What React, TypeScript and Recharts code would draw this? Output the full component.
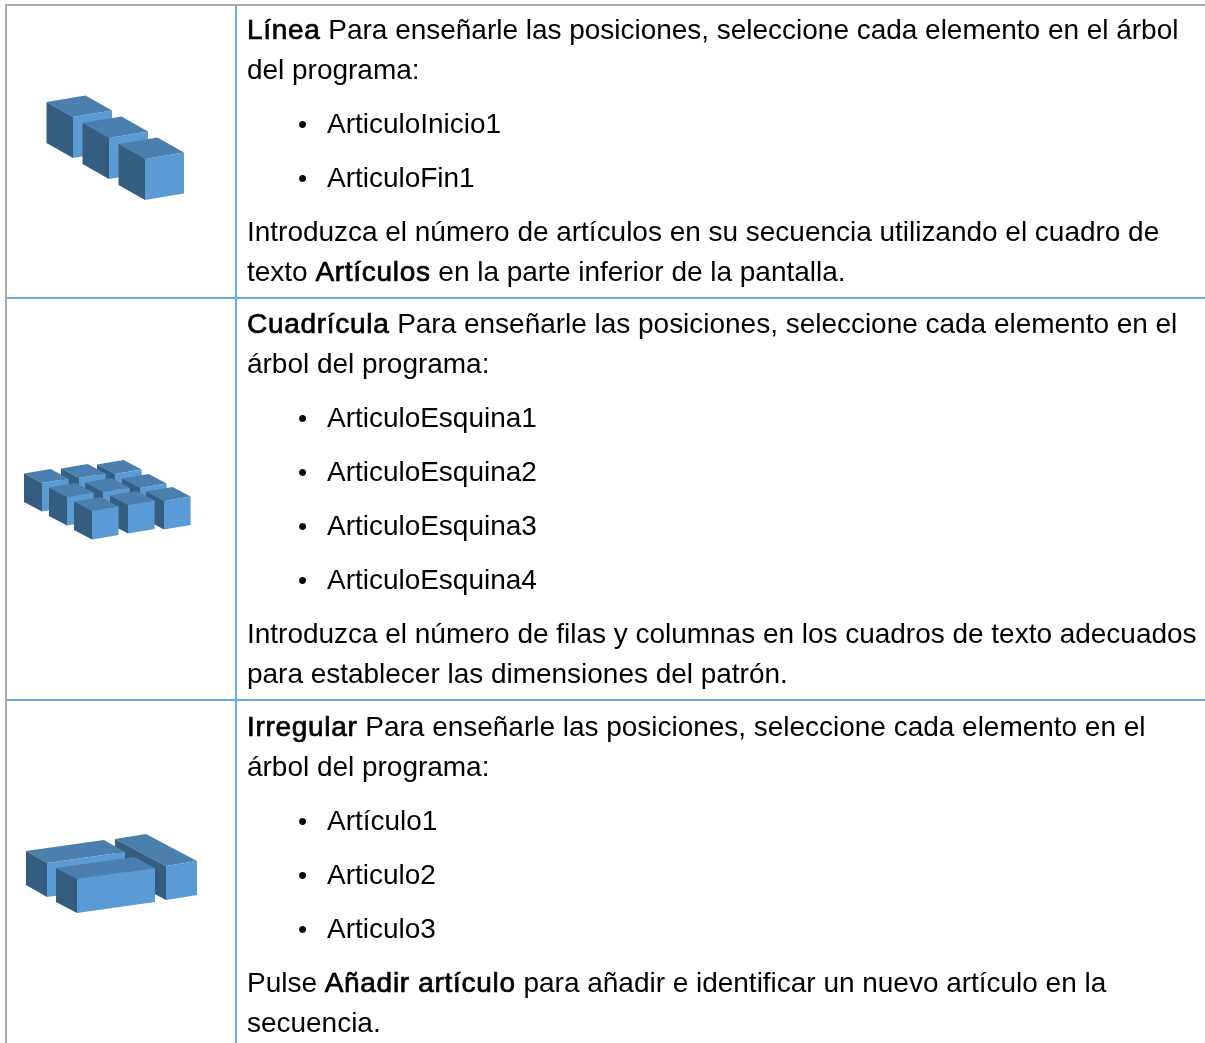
import React from "react";
import { ScatterChart, Scatter, XAxis, YAxis } from "recharts";

// Values, in pixels from the top-left of each table row.
const lineCubeX = [73, 109, 145];
const lineCubeY = [117, 138, 159];

const gridCubeX = [115, 79, 42, 140, 103, 67, 164, 128, 92];
const gridCubeY = [175, 179, 184, 189, 193, 198, 202, 206, 212];

const blockX = [166, 47, 77];
const blockY = [165, 162, 178];
const blockLeftRun = [-51, -21, -21];
const blockLeftRise = [-27, -12, -11];
const blockRightRun = [31, 78, 78];
const blockRightRise = [-5, -11, -11];

const toCubes = (xs: number[], ys: number[]) =>
  xs.map((x, i) => ({ x, y: ys[i] }));

const lineCubes = toCubes(lineCubeX, lineCubeY).map((d) => ({
  ...d, lx: -26.5, ly: -15, rx: 39, ry: -6.5, h: 41,
}));
const gridCubes = toCubes(gridCubeX, gridCubeY).map((d) => ({
  ...d, lx: -18, ly: -9.5, rx: 26.6, ry: -4.5, h: 28.5,
}));
const blocks = toCubes(blockX, blockY).map((d, i) => ({
  ...d, lx: blockLeftRun[i], ly: blockLeftRise[i], rx: blockRightRun[i], ry: blockRightRise[i], h: 34,
}));

const CELL_WIDTH = 235;
const rowTops = [0, 299, 701];
const rowHeights = [298, 401, 342];

type Line = { top: number; parts: string[]; bullet?: boolean };

// parts alternate plain, bold, plain
const textLines: Line[] = [
  { top: 30, parts: ["", "Línea", " Para enseñarle las posiciones, seleccione cada elemento en el árbol"] },
  { top: 70, parts: ["del programa:"] },
  { top: 124, parts: ["ArticuloInicio1"], bullet: true },
  { top: 178, parts: ["ArticuloFin1"], bullet: true },
  { top: 232, parts: ["Introduzca el número de artículos en su secuencia utilizando el cuadro de"] },
  { top: 272, parts: ["texto ", "Artículos", " en la parte inferior de la pantalla."] },
  { top: 324, parts: ["", "Cuadrícula", " Para enseñarle las posiciones, seleccione cada elemento en el"] },
  { top: 364, parts: ["árbol del programa:"] },
  { top: 418, parts: ["ArticuloEsquina1"], bullet: true },
  { top: 472, parts: ["ArticuloEsquina2"], bullet: true },
  { top: 526, parts: ["ArticuloEsquina3"], bullet: true },
  { top: 580, parts: ["ArticuloEsquina4"], bullet: true },
  { top: 634, parts: ["Introduzca el número de filas y columnas en los cuadros de texto adecuados"] },
  { top: 674, parts: ["para establecer las dimensiones del patrón."] },
  { top: 727, parts: ["", "Irregular", " Para enseñarle las posiciones, seleccione cada elemento en el"] },
  { top: 767, parts: ["árbol del programa:"] },
  { top: 821, parts: ["Artículo1"], bullet: true },
  { top: 875, parts: ["Articulo2"], bullet: true },
  { top: 929, parts: ["Articulo3"], bullet: true },
  { top: 983, parts: ["Pulse ", "Añadir artículo", " para añadir e identificar un nuevo artículo en la"] },
  { top: 1023, parts: ["secuencia."] },
];

const Cube = (props: any) => {
  const { cx, cy, payload } = props;
  const { lx, ly, rx, ry, h } = payload;
  const pts = (list: number[][]) => list.map((p) => p.join(",")).join(" ");
  const F = [cx, cy];
  const L = [cx + lx, cy + ly];
  const R = [cx + rx, cy + ry];
  const B = [cx + lx + rx, cy + ly + ry];
  const down = (p: number[]) => [p[0], p[1] + h];
  return (
    <g>
      <polygon points={pts([F, L, B, R])} fill="#4a7fae" />
      <polygon points={pts([F, L, down(L), down(F)])} fill="#355d80" />
      <polygon points={pts([F, R, down(R), down(F)])} fill="#5b9bd5" />
    </g>
  );
};

const Icon = ({ data, top, height }: { data: any[]; top: number; height: number }) => (
  <div style={{ position: "absolute", left: 0, top, width: CELL_WIDTH, height }}>
    <ScatterChart width={CELL_WIDTH} height={height} margin={{ top: 0, right: 0, bottom: 0, left: 0 }} style={{ overflow: "visible" }}>
      <XAxis type="number" dataKey="x" domain={[0, CELL_WIDTH]} hide />
      <YAxis type="number" dataKey="y" domain={[0, height]} reversed hide />
      <Scatter data={data} isAnimationActive={false} shape={<Cube />} />
    </ScatterChart>
  </div>
);

const TextRow = ({ line }: { line: Line }) => (
  <>
    {line.bullet && (
      <div style={{ position: "absolute", left: 298, top: line.top - 20, height: 40, lineHeight: "40px", fontSize: 26 }}>
        •
      </div>
    )}
    <div
      style={{
        position: "absolute",
        left: line.bullet ? 327 : 247,
        top: line.top - 20,
        height: 40,
        lineHeight: "40px",
        whiteSpace: "pre",
      }}
    >
      {line.parts.map((part, i) =>
        i === 1 ? (
          <span key={i} style={{ WebkitTextStroke: "0.7px #000", letterSpacing: 0.7 }}>
            {part}
          </span>
        ) : (
          <span key={i}>{part}</span>
        )
      )}
    </div>
  </>
);

export default function App() {
  return (
    <div
      style={{
        position: "fixed",
        left: 0,
        top: 0,
        width: 1205,
        height: 1043,
        overflow: "hidden",
        background: "#fff",
        color: "#000",
        fontFamily: "'Liberation Sans', Arial, sans-serif",
        fontSize: 28,
        letterSpacing: -0.02,
        filter: "blur(0.35px)",
      }}
    >
      <div style={{ position: "absolute", left: 5, top: 4, width: 2, height: 1039, background: "#aaa" }} />
      <div style={{ position: "absolute", left: 5, top: 4, width: 1200, height: 1.5, background: "#aaa" }} />
      <div style={{ position: "absolute", left: 235, top: 5, width: 2, height: 1038, background: "#6aa9e9" }} />
      <div style={{ position: "absolute", left: 7, top: 297, width: 1198, height: 2, background: "#6aa9e9" }} />
      <div style={{ position: "absolute", left: 7, top: 699, width: 1198, height: 2, background: "#6aa9e9" }} />

      <Icon data={lineCubes} top={rowTops[0]} height={rowHeights[0]} />
      <Icon data={gridCubes} top={rowTops[1]} height={rowHeights[1]} />
      <Icon data={blocks} top={rowTops[2]} height={rowHeights[2]} />

      {textLines.map((line) => (
        <TextRow key={line.top} line={line} />
      ))}
    </div>
  );
}
